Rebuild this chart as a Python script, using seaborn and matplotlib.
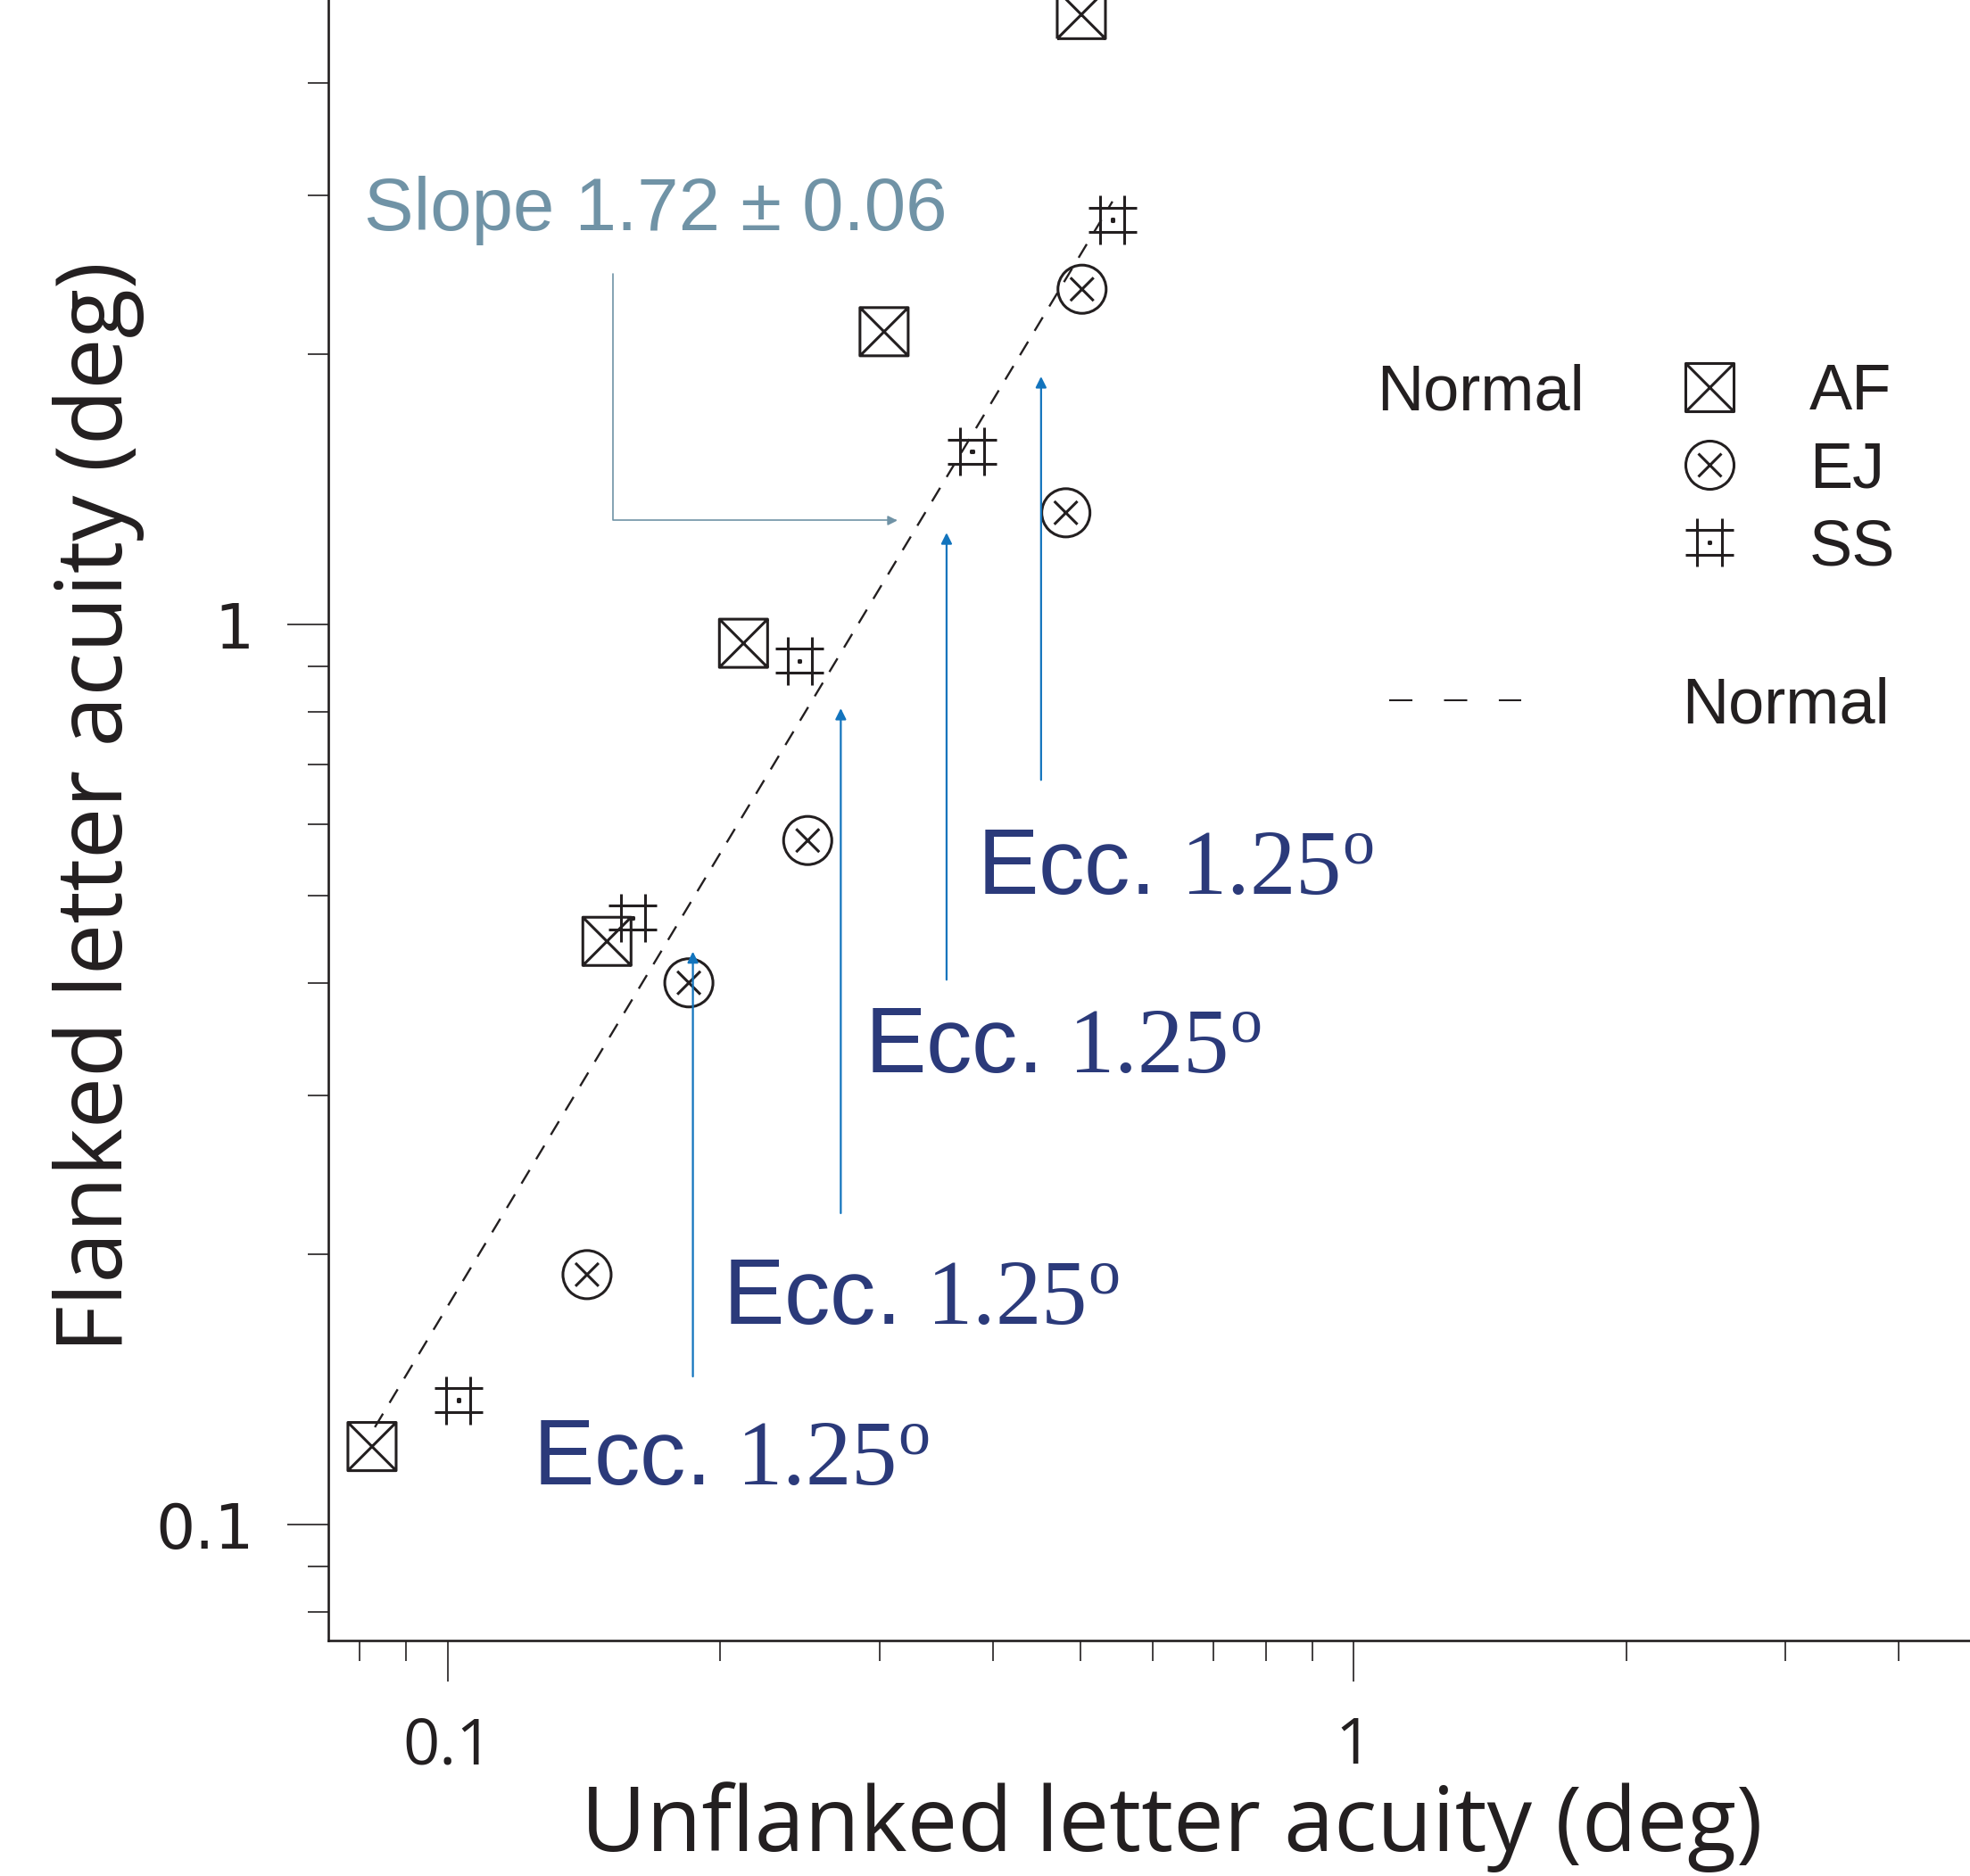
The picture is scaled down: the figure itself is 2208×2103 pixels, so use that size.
import numpy as np
import pandas as pd
import matplotlib
matplotlib.use("Agg")
import matplotlib.pyplot as plt
from matplotlib.path import Path
from matplotlib.lines import Line2D
from matplotlib import ticker, font_manager as fm
import seaborn as sns

# ---------------- data ----------------
subjects = ["AF", "EJ", "SS"]
af_unflanked = [0.0825, 0.1499, 0.2121, 0.3032, 0.5006]
af_flanked = [0.1222, 0.445, 0.954, 2.117, 4.765]
ej_unflanked = [0.1425, 0.1846, 0.2497, 0.4813, 0.5015]
ej_flanked = [0.1897, 0.4002, 0.576, 1.332, 2.36]
ss_unflanked = [0.1028, 0.160, 0.2447, 0.3792, 0.5418]
ss_flanked = [0.1376, 0.4725, 0.912, 1.558, 2.818]

normal_fit_x = [0.0831, 0.5418]
normal_fit_y = [0.1284, 2.954]

x_major_ticks = [0.1, 1]
x_major_labels = ["0.1", "1"]
y_major_ticks = [0.1, 1]
y_major_labels = ["0.1", "1"]

slope_label = "Slope 1.72 \u00b1 0.06"
slope_text_xy = (0.0808, 2.746)
slope_arrow_start = (0.1521, 2.456)
slope_arrow_tip = (0.3137, 1.306)

ecc_label = r"Ecc. $\mathrm{1.25}^{\mathrm{o}}$"
ecc_label_x = [0.1240, 0.2010, 0.2885, 0.3840]
ecc_label_y = [0.1109, 0.1673, 0.3186, 0.5028]
ecc_arrow_x = [0.1865, 0.2716, 0.3554, 0.4519]
ecc_arrow_y0 = [0.1462, 0.2220, 0.4034, 0.6725]
ecc_arrow_y1 = [0.4335, 0.8078, 1.266, 1.888]

# ---------------- style ----------------
sns.set_style("ticks")
names = {f.name for f in fm.fontManager.ttflist}
has_narrow = "Liberation Sans Narrow" in names
plt.rcParams["font.family"] = ["Open Sans", "DejaVu Sans"]
plt.rcParams["mathtext.fontset"] = "custom"
plt.rcParams["mathtext.rm"] = "Liberation Serif"
plt.rcParams["mathtext.it"] = "Liberation Serif:italic"
plt.rcParams["mathtext.bf"] = "Liberation Serif:bold"

BLACK = "#231f20"
SLOPE_C = "#7093a6"
ARROW_C = "#1274bd"
NAVY = "#2b3a7a"

W, H = 2208, 2103
fig = plt.figure(figsize=(W / 100, H / 100), dpi=100)
fig.patch.set_facecolor("white")
ax_l, ax_b = 368 / W, (H - 1839.3) / H
ax = fig.add_axes([ax_l, ax_b, 1 - ax_l, 1 - ax_b])
ax.set_facecolor("white")
ax.set_xscale("log")
ax.set_yscale("log")

# ---------------- custom markers ----------------
def square_x():
    verts = [(-1, -1), (1, -1), (1, 1), (-1, 1), (-1, -1),
             (-1, -1), (1, 1), (-1, 1), (1, -1)]
    codes = [Path.MOVETO, Path.LINETO, Path.LINETO, Path.LINETO, Path.CLOSEPOLY,
             Path.MOVETO, Path.LINETO, Path.MOVETO, Path.LINETO]
    return Path(verts, codes)

def circle_x():
    c = Path.unit_circle()
    k = 0.48
    xp = Path([(-k, -k), (k, k), (-k, k), (k, -k)],
              [Path.MOVETO, Path.LINETO, Path.MOVETO, Path.LINETO])
    return Path.make_compound_path(c, xp)

def hash_dot():
    d = 0.04
    verts = [(-0.5, -1), (-0.5, 1), (0.5, -1), (0.5, 1),
             (-1, -0.5), (1, -0.5), (-1, 0.5), (1, 0.5),
             (-d, -d), (d, -d), (d, d), (-d, d), (-d, -d)]
    codes = [Path.MOVETO, Path.LINETO] * 4 + [Path.MOVETO, Path.LINETO, Path.LINETO,
                                              Path.LINETO, Path.CLOSEPOLY]
    return Path(verts, codes)

marker_paths = {"AF": square_x(), "EJ": circle_x(), "SS": hash_dot()}
MS = 38.9      # marker size in points (about 54 px)
MLW = 2.2

# ---------------- normal fit line ----------------
sns.lineplot(x=normal_fit_x, y=normal_fit_y, ax=ax, color=BLACK, linewidth=1.7,
             zorder=2, errorbar=None)
ax.lines[-1].set_linestyle((0, (7.5, 6)))

# ---------------- points ----------------
series = {"AF": (af_unflanked, af_flanked),
          "EJ": (ej_unflanked, ej_flanked),
          "SS": (ss_unflanked, ss_flanked)}
for subj in subjects:
    xs, ys = series[subj]
    sns.scatterplot(x=xs, y=ys, ax=ax, marker=marker_paths[subj], s=MS ** 2,
                    facecolor="none", edgecolor=BLACK, linewidth=MLW, zorder=3)

# ---------------- annotations ----------------
slope_font = ["Liberation Sans Narrow", "Liberation Sans"] if has_narrow else ["Liberation Sans"]
slope_size = 73 if has_narrow else 60
ax.text(*slope_text_xy, slope_label, color=SLOPE_C, fontsize=slope_size,
        family=slope_font, ha="left", va="baseline")
ax.annotate("", xy=slope_arrow_tip, xytext=slope_arrow_start,
            arrowprops=dict(arrowstyle="-|>", color=SLOPE_C, lw=1.2,
                            mutation_scale=16, shrinkA=0, shrinkB=0,
                            connectionstyle="angle,angleA=90,angleB=0,rad=0"))

for xa, y0, y1 in zip(ecc_arrow_x, ecc_arrow_y0, ecc_arrow_y1):
    ax.annotate("", xy=(xa, y1), xytext=(xa, y0),
                arrowprops=dict(arrowstyle="-|>", color=ARROW_C, lw=1.6,
                                mutation_scale=18, shrinkA=0, shrinkB=0))
for xl, yl in zip(ecc_label_x, ecc_label_y):
    ax.text(xl, yl, ecc_label, color=NAVY, fontsize=74, family=["Liberation Sans"],
            ha="left", va="baseline")

# ---------------- axes ----------------
ax.set_xlim(0.07383, 4.792)
ax.set_ylim(0.07435, 4.946)
ax.xaxis.set_major_locator(ticker.FixedLocator(x_major_ticks))
ax.xaxis.set_major_formatter(ticker.FixedFormatter(x_major_labels))
ax.yaxis.set_major_locator(ticker.FixedLocator(y_major_ticks))
ax.yaxis.set_major_formatter(ticker.FixedFormatter(y_major_labels))
ax.xaxis.set_minor_locator(ticker.LogLocator(base=10, subs=np.arange(2, 10)))
ax.yaxis.set_minor_locator(ticker.LogLocator(base=10, subs=np.arange(2, 10)))
ax.xaxis.set_minor_formatter(ticker.NullFormatter())
ax.yaxis.set_minor_formatter(ticker.NullFormatter())

for side in ["top", "right"]:
    ax.spines[side].set_visible(False)
for side in ["left", "bottom"]:
    ax.spines[side].set_linewidth(1.9)
    ax.spines[side].set_color(BLACK)

ax.tick_params(which="major", direction="out", length=33, width=1.2, color=BLACK,
               labelsize=52, labelcolor=BLACK)
ax.tick_params(which="minor", direction="out", length=16.5, width=1.2, color=BLACK)
ax.tick_params(axis="x", which="major", pad=27)
ax.tick_params(axis="y", which="major", pad=27, labelsize=50)
for lab in ax.get_yticklabels():
    lab.set_family(["DejaVu Sans"])

ax.set_xlabel("Unflanked letter acuity (deg)", fontsize=72.5, color=BLACK, va="baseline")
ax.xaxis.set_label_coords(0.514, (1839.3 - 2075) / 1839.3)
ax.set_ylabel("Flanked letter acuity (deg)", fontsize=73.5, color=BLACK, va="baseline")
ax.yaxis.set_label_coords((137 - 368) / 1840, (1839.3 - 904.5) / 1839.3)

# ---------------- legend ----------------
LFS = 52
legend_handles = [Line2D([], [], linestyle="none", marker=marker_paths[s], markersize=MS,
                         markerfacecolor="none", markeredgecolor=BLACK,
                         markeredgewidth=MLW) for s in subjects]
leg1 = ax.legend(legend_handles, subjects, loc="upper left",
                 bbox_to_anchor=(1880 / W, (H - 407) / H), bbox_transform=fig.transFigure,
                 frameon=False, prop={"family": "Liberation Sans", "size": LFS},
                 handlelength=1.0, handletextpad=1.05, labelspacing=0.28,
                 borderpad=0, borderaxespad=0)
for t in leg1.get_texts():
    t.set_color(BLACK)
ax.add_artist(leg1)

dash_handle = Line2D([], [], color=BLACK, linewidth=1.5, linestyle=(0, (12.5, 17)))
leg2 = ax.legend([dash_handle], ["Normal"], loc="upper left",
                 bbox_to_anchor=(1557 / W, (H - 758.7) / H), bbox_transform=fig.transFigure,
                 frameon=False, prop={"family": "Liberation Sans", "size": LFS},
                 handlelength=2.05, handletextpad=2.5, borderpad=0, borderaxespad=0)
for t in leg2.get_texts():
    t.set_color(BLACK)

fig.text(1543 / W, (H - 460) / H, "Normal", fontsize=LFS, family=["Liberation Sans"],
         color=BLACK, ha="left", va="baseline")

fig.savefig("out.png", dpi=100, facecolor="white")
